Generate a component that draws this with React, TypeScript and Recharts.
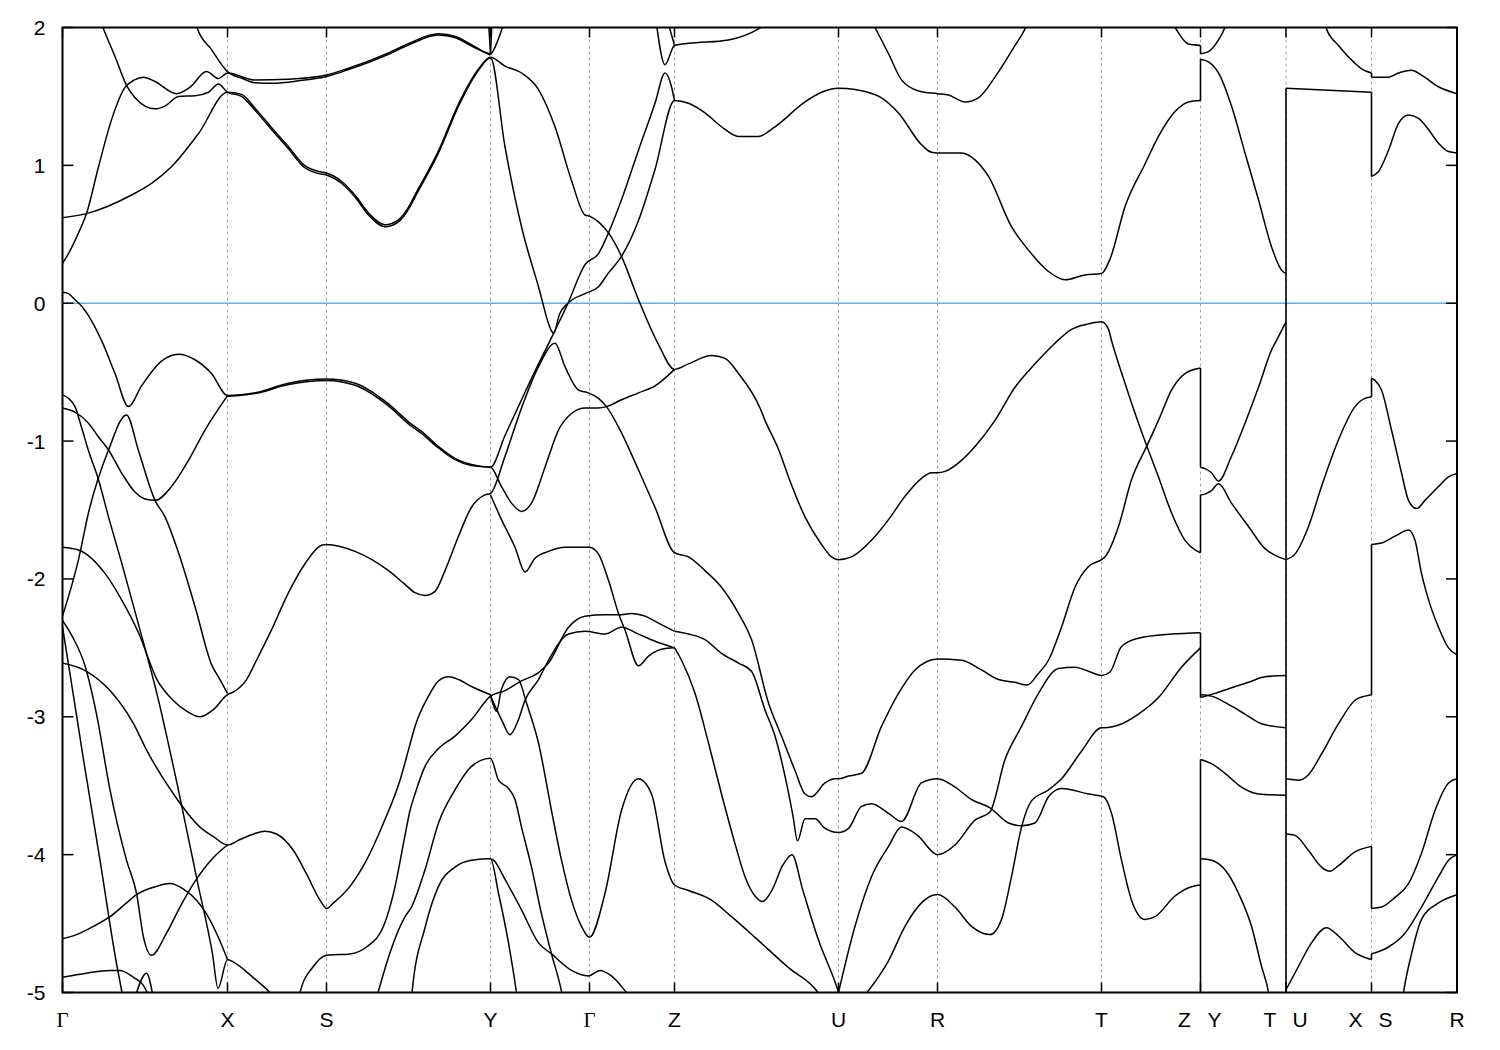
import React from 'react';
import { LineChart, Line, XAxis, YAxis, CartesianGrid, ReferenceLine, ReferenceArea } from 'recharts';

// high-symmetry points along the k-path (path units)
const kTicks = [0, 165, 264, 428, 527, 612, 776, 875, 1039, 1138, 1223.5, 1309, 1394.5];
const kLabels = ['Γ', 'X', 'S', 'Y', 'Γ', 'Z', 'U', 'R', 'T', 'Z|Y', 'T|U', 'X|S', 'R'];
const energyTicks = [-5, -4, -3, -2, -1, 0, 1, 2];

// bands, as [k, E(eV)] pairs
const bandA = [[0,0.29],[6,0.36],[16,0.51],[24,0.65],[36,0.99],[49,1.33],[62,1.56],[72,1.62],[81,1.64],[92,1.61],[114,1.52],[128,1.57],[144,1.68],[156,1.63],[165,1.67],[192,1.62],[226,1.625],[264,1.655],[286,1.705],[309,1.765],[326,1.815],[348,1.89],[376,1.955],[393,1.935],[409,1.875],[428,1.81],[435,1.9],[442,2.05]];
const bandD = [[133,2.05],[134.5,2.0],[149,1.84],[165,1.68],[180,1.63],[192,1.6],[210,1.595],[238,1.615],[264,1.645],[286,1.695],[309,1.755],[326,1.805],[348,1.88],[376,1.945],[393,1.925],[409,1.865],[428,1.8]];
const bandYv = [[426,2.05],[428,1.81]];
const bandYv2 = [[428,1.8],[429.5,2.05]];
const bandB = [[38,2.05],[40.5,2.0],[52.5,1.79],[64,1.58],[72.5,1.49],[82.5,1.43],[92.5,1.41],[102.5,1.43],[116,1.5],[132.5,1.505],[146,1.53],[156,1.59],[165,1.53],[179,1.5],[192.5,1.4],[209,1.26],[226,1.12],[241,0.99],[256,0.94],[264,0.93],[279,0.87],[292.5,0.77],[306,0.64],[322.5,0.555],[336,0.59],[347.5,0.7],[352.5,0.77],[376,1.09],[396,1.43],[416,1.69],[428,1.78],[442.5,1.135],[459,0.555],[476,0.12],[489,-0.2],[491,-0.22],[497,-0.08],[505.5,0.0],[522.5,0.07],[536,0.12],[546,0.22],[559,0.34],[576,0.6],[592.5,0.97],[612,1.47],[626,1.45],[642.5,1.38],[659,1.28],[676,1.21],[696,1.21],[712.5,1.28],[742.5,1.46],[759,1.53],[776,1.56],[792.5,1.55],[819,1.49],[836,1.38],[859,1.15],[869,1.095],[875,1.09],[899,1.09],[912.5,1.04],[926,0.92],[949,0.555],[966,0.385],[986,0.23],[1002.5,0.17],[1022.5,0.205],[1039,0.215],[1047.5,0.32],[1062.5,0.7],[1082.5,1.01],[1096,1.21],[1112.5,1.39],[1126,1.46],[1138,1.47]];
const bandC = [[0,0.62],[24,0.65],[69,0.785],[89,0.87],[109,0.99],[136,1.23],[165,1.53],[179,1.515],[192.5,1.415],[209,1.275],[226,1.135],[241,1.005],[256,0.955],[264,0.945],[279,0.885],[292.5,0.785],[306,0.655],[322.5,0.57],[336,0.605],[347.5,0.715],[352.5,0.785],[376,1.105],[396,1.445],[416,1.7],[428,1.785],[442.5,1.72],[459,1.67],[476,1.55],[492.5,1.28],[509,0.89],[522.5,0.64],[527.5,0.63],[536,0.59],[546,0.51],[559,0.34],[576,0.025],[596,-0.3],[612,-0.48],[626,-0.44],[649,-0.38],[662.5,-0.4],[676,-0.51],[697.5,-0.76],[702.5,-0.85],[716,-1.06],[726,-1.26],[742.5,-1.55],[759,-1.75],[769,-1.84],[776,-1.86],[789,-1.84],[809,-1.72],[826,-1.57],[842.5,-1.4],[859,-1.27],[869,-1.23],[875,-1.23],[882.5,-1.22],[899,-1.14],[912.5,-1.04],[932.5,-0.85],[952.5,-0.61],[972.5,-0.44],[992.5,-0.29],[1009,-0.19],[1026,-0.15],[1039,-0.135],[1046,-0.19],[1049,-0.27],[1062.5,-0.58],[1076,-0.87],[1084,-1.03],[1096,-1.26],[1109,-1.52],[1122.5,-1.72],[1132.5,-1.79],[1138,-1.81]];
const bandC1 = [[0,0.08],[6,0.07],[12.5,0.025],[19,-0.02],[39,-0.27],[52.5,-0.51],[66,-0.75],[79,-0.6],[99,-0.42],[116,-0.37],[132.5,-0.41],[149,-0.51],[165,-0.67],[192.5,-0.65],[226,-0.58],[264,-0.55],[292.5,-0.58],[326,-0.73],[347.5,-0.87],[359,-0.93],[376,-1.04],[392.5,-1.125],[409,-1.17],[428,-1.19],[442.5,-0.96],[459,-0.7],[476,-0.44],[489,-0.25],[505.5,0.0],[522.5,0.28],[536,0.36],[546,0.51],[559,0.75],[576,1.11],[592.5,1.45],[602.5,1.67],[609,1.57],[612,1.47]];
const bandM2 = [[165,-0.675],[192.5,-0.655],[226,-0.59],[264,-0.56],[292.5,-0.595],[326,-0.745],[347.5,-0.885],[359,-0.945],[376,-1.05],[392.5,-1.135],[409,-1.178],[428,-1.19],[439,-1.33],[449,-1.45],[459,-1.51],[469,-1.45],[482.5,-1.19],[496,-0.92],[509,-0.8],[522.5,-0.76],[536,-0.76],[544,-0.75],[559,-0.7],[576,-0.65],[592.5,-0.6],[612,-0.48]];
const bandM3 = [[0,-1.77],[16,-1.79],[42.5,-1.96],[59,-2.15],[76,-2.39],[94.5,-2.73],[110.5,-2.88],[124.5,-2.96],[137.5,-3.0],[150.5,-2.95],[165,-2.84],[171,-2.82],[184,-2.73],[194,-2.59],[209,-2.37],[226,-2.1],[242.5,-1.89],[259,-1.755],[264,-1.75],[292.5,-1.8],[326,-1.94],[342.5,-2.04],[352.5,-2.1],[362.5,-2.12],[372.5,-2.09],[382.5,-1.94],[396,-1.69],[409,-1.48],[422.5,-1.39],[428,-1.38],[442.5,-1.11],[459,-0.76],[476,-0.46],[492.5,-0.29],[502.5,-0.46],[516,-0.63],[526,-0.65],[536,-0.69],[544,-0.75],[559,-0.94],[576,-1.21],[592.5,-1.48],[612,-1.81],[626,-1.84],[642.5,-1.94],[659,-2.06],[676,-2.25],[689,-2.44],[706,-2.9],[719,-3.14],[732.5,-3.39],[742.5,-3.56],[749,-3.58],[762.5,-3.48],[772.5,-3.45],[776,-3.45],[786,-3.43],[799,-3.41],[819,-3.07],[836,-2.83],[852.5,-2.66],[875,-2.58],[899,-2.59],[919,-2.66],[936,-2.73],[952.5,-2.75],[964.5,-2.77],[975.5,-2.69],[986,-2.59],[999,-2.35],[1012.5,-2.06],[1026,-1.91],[1039,-1.86],[1042.5,-1.84],[1056,-1.62],[1069,-1.28],[1084,-1.04],[1096,-0.85],[1109,-0.63],[1122.5,-0.51],[1138,-0.47]];
const bandG3 = [[0,-0.665],[6,-0.69],[12.5,-0.75],[19,-0.9],[26,-1.07],[36,-1.28],[46,-1.55],[59,-1.88],[76,-2.33],[95,-2.85],[115,-3.5],[135,-4.2],[150,-4.72],[155.5,-4.97],[165,-4.76],[171,-4.78],[190.5,-4.89],[207.5,-5.0],[220,-5.1]];
const bandG4 = [[0,-0.76],[12.5,-0.79],[26,-0.87],[36,-0.97],[46,-1.065],[59,-1.23],[72.5,-1.37],[82.5,-1.42],[92.5,-1.43],[109,-1.33],[126,-1.14],[142.5,-0.92],[165,-0.67]];
const bandG5 = [[0,-2.27],[16,-1.86],[26,-1.52],[46,-1.065],[64,-0.81],[76,-1.07],[92.5,-1.43],[102.5,-1.55],[116,-1.81],[132.5,-2.2],[149,-2.62],[157.5,-2.73],[165,-2.83]];
const bandV473 = [[0,-2.3],[10,-2.42],[22.5,-2.63],[34,-2.98],[47.5,-3.53],[64,-4.04],[74,-4.28],[81,-4.6],[89,-4.73],[104,-4.57],[117.5,-4.38],[131,-4.21],[151,-4.02],[165,-3.93]];
const bandSteep = [[0,-2.35],[6,-2.62],[21,-3.31],[37.5,-4.04],[54,-4.79],[59.5,-5.0],[62,-5.1]];
const bandL9a = [[0,-2.61],[24,-2.67],[47.5,-2.81],[71,-3.05],[84,-3.24],[111,-3.56],[137.5,-3.8],[151,-3.87],[165,-3.93],[177.5,-3.89],[191,-3.85],[202.5,-3.83],[214,-3.85],[231,-3.97],[244,-4.14],[257.5,-4.33],[264,-4.39],[271,-4.35],[287.5,-4.23],[304,-4.04],[321,-3.77],[337.5,-3.46],[347.5,-3.2],[352.5,-3.07],[366,-2.85],[376,-2.74],[386,-2.71],[396,-2.73],[409,-2.78],[428,-2.84]];
const bandG46 = [[0,-4.61],[14,-4.58],[31,-4.52],[47.5,-4.45],[64,-4.35],[74,-4.29],[94,-4.23],[107.5,-4.21],[121,-4.25],[134,-4.33],[144,-4.43],[154,-4.57],[165,-4.76]];
const bandG49 = [[0,-4.89],[24,-4.86],[47.5,-4.84],[57.5,-4.84],[71,-4.89],[81,-4.95],[88,-5.05]];
const bandG49b = [[72,-5.05],[84,-4.86],[91,-5.05]];
const bandSY2 = [[236,-5.05],[237.5,-5.0],[251,-4.81],[264,-4.73],[287.5,-4.72],[304,-4.67],[321,-4.52],[332,-4.25],[342.5,-3.86],[347.5,-3.68],[352.5,-3.56],[362.5,-3.36],[376,-3.23],[392.5,-3.14],[409,-3.02],[428,-2.85],[442.5,-2.81],[459,-2.74],[476,-2.68],[486,-2.61],[506,-2.35],[522.5,-2.27],[542.5,-2.26],[559,-2.26],[569,-2.25],[582.5,-2.27],[596,-2.32],[612,-2.38]];
const bandYGa = [[428,-2.84],[434,-2.96],[439,-2.8],[447.5,-2.71],[456,-2.73],[464,-2.9],[476,-3.19],[489,-3.68],[499,-4.04],[509,-4.33],[519,-4.52],[527,-4.6],[542.5,-4.28],[559,-3.68],[576,-3.45],[589,-3.56],[602.5,-4.05],[612,-4.22],[626,-4.26],[649,-4.33],[669,-4.45],[692.5,-4.6],[726,-4.82],[755.5,-5.0],[760,-5.05]];
const bandYGb = [[428,-2.85],[439,-3.02],[447.5,-3.13],[456,-3.02],[462.5,-2.88],[476,-2.73],[486,-2.59],[506,-2.4],[522.5,-2.38],[542.5,-2.4],[559,-2.35],[576,-2.4],[592,-2.45],[612,-2.5]];
const bandY33 = [[315.5,-5.0],[328,-4.7],[342.5,-4.45],[349,-4.38],[362.5,-4.11],[376,-3.77],[392.5,-3.53],[409,-3.36],[428,-3.3],[436,-3.46],[446,-3.52],[452.5,-3.6],[459,-3.8],[469,-4.09],[479,-4.43],[489,-4.72],[499,-4.99],[502,-5.1]];
const bandY40 = [[349,-5.05],[349.5,-5.0],[362.5,-4.53],[376,-4.23],[392.5,-4.09],[409,-4.04],[428,-4.03],[436,-4.28],[446,-4.64],[454,-5.0],[456,-5.1]];
const bandY40b = [[428,-4.03],[431,-4.04],[442.5,-4.18],[459,-4.4],[476,-4.64],[489,-4.72],[509,-4.84],[526,-4.88],[537.5,-4.84],[549,-4.88],[564,-5.0],[570,-5.05]];
const bandM4 = [[428,-1.39],[439,-1.57],[452.5,-1.77],[462.5,-1.95],[472.5,-1.85],[486,-1.8],[502.5,-1.77],[527,-1.77],[536,-1.82],[546,-2.01],[556,-2.25],[562.5,-2.37],[576,-2.63],[586,-2.56],[599,-2.51],[612,-2.5]];
const bandZU2 = [[612,-2.38],[626,-2.4],[642.5,-2.44],[659,-2.54],[676,-2.61],[689,-2.67],[702.5,-2.95],[712.5,-3.14],[722.5,-3.43],[730.5,-3.72],[735,-3.9],[742.5,-3.74],[752.5,-3.74],[762.5,-3.81],[776,-3.84],[786,-3.81],[799,-3.65],[809,-3.63],[826,-3.7],[839,-3.76],[859,-3.48],[875,-3.45],[892.5,-3.51],[909,-3.6],[927.5,-3.66],[946,-3.77],[959,-3.79],[972.5,-3.77],[986,-3.58],[999,-3.52],[1026,-3.56],[1041,-3.58],[1049,-3.7],[1059,-4.04],[1069,-4.33],[1082.5,-4.47],[1092.5,-4.45],[1112.5,-4.3],[1126,-4.24],[1138,-4.22]];
const bandZU3 = [[612,-2.5],[619,-2.59],[632.5,-2.83],[646,-3.19],[659,-3.56],[672.5,-3.92],[682.5,-4.16],[692.5,-4.3],[700,-4.34],[710,-4.25],[720,-4.08],[729.5,-4.0],[740,-4.25],[756,-4.62],[776,-5.0],[778,-5.05]];
const bandUR1 = [[776,-5.0],[792.5,-4.52],[809,-4.16],[826,-3.94],[839,-3.8],[855,-3.86],[875,-4.0],[892.5,-3.93],[912.5,-3.75],[927.5,-3.69],[942.5,-3.31],[959,-3.07],[976,-2.83],[996,-2.65],[1012.5,-2.64],[1026,-2.67],[1039,-2.7],[1047.5,-2.675],[1059,-2.49],[1076,-2.43],[1109,-2.4],[1138,-2.39]];
const bandUR3 = [[804.5,-5.0],[826,-4.77],[842.5,-4.52],[859,-4.35],[875,-4.29],[892.5,-4.38],[909,-4.52],[927.5,-4.58],[939,-4.47],[949,-4.16],[959,-3.8],[969,-3.61],[986,-3.53],[999,-3.45],[1019,-3.25],[1039,-3.08],[1042.5,-3.08],[1056,-3.06],[1076,-2.98],[1096,-2.86],[1119,-2.64],[1138,-2.5]];
const bandZv = [[593.5,2.05],[602.5,1.73],[612,1.87],[626,1.885],[666,1.91],[696,1.99],[708,2.05]];
const bandZs = [[605,2.05],[612,1.87]];
const bandRT = [[809,2.05],[812.5,2.0],[826,1.81],[839,1.62],[856,1.54],[875,1.52],[886,1.51],[902.5,1.46],[916,1.49],[932.5,1.64],[952.5,1.87],[962.5,1.99],[966,2.05]];
const bandZYtop = [[1108,2.05],[1112.5,2.0],[1126,1.88],[1138,1.87]];
const bandYT1 = [[1138,1.77],[1146,1.75],[1156,1.67],[1169,1.43],[1182.5,1.09],[1196,0.75],[1209,0.41],[1219,0.24],[1223.5,0.215]];
const bandYT2 = [[1138,1.81],[1146,1.825],[1156,1.91],[1162.5,2.0],[1165,2.05]];
const bandYT3 = [[1138,-1.19],[1142.5,-1.2],[1149,-1.23],[1156,-1.29],[1169,-1.11],[1182.5,-0.87],[1196,-0.61],[1209,-0.34],[1214,-0.27],[1223.5,-0.135]];
const bandYT4 = [[1138,-1.39],[1142.5,-1.385],[1149,-1.36],[1156,-1.31],[1169,-1.45],[1186,-1.62],[1202.5,-1.78],[1216,-1.84],[1223.5,-1.86]];
const bandYT5 = [[1138,-2.84],[1149,-2.85],[1166,-2.91],[1182.5,-2.98],[1199,-3.05],[1223.5,-3.08]];
const bandYT6 = [[1138,-2.86],[1152.5,-2.83],[1169,-2.79],[1186,-2.75],[1202.5,-2.71],[1223.5,-2.7]];
const bandYT7 = [[1138,-3.31],[1149,-3.34],[1162.5,-3.41],[1179,-3.51],[1196,-3.56],[1223.5,-3.57]];
const bandYT8 = [[1138,-4.03],[1149,-4.04],[1162.5,-4.11],[1176,-4.28],[1189,-4.52],[1199,-4.81],[1206,-5.0],[1208,-5.1]];
const bandUX1 = [[1223.5,1.56],[1309,1.53]];
const bandSR1 = [[1309,0.92],[1316,0.955],[1326,1.11],[1336,1.305],[1346,1.365],[1356,1.34],[1366,1.26],[1376,1.16],[1386,1.1],[1394.5,1.09]];
const bandUXtop = [[1262,2.05],[1264,1.99],[1276,1.87],[1292.5,1.74],[1299,1.7],[1309,1.67]];
const bandSRtop = [[1309,1.64],[1326,1.64],[1336,1.67],[1349,1.69],[1359,1.655],[1376,1.57],[1394.5,1.52]];
const bandUX2 = [[1223.5,-1.86],[1232.5,-1.82],[1246,-1.62],[1259,-1.33],[1276,-0.99],[1292.5,-0.75],[1302.5,-0.69],[1309,-0.68]];
const bandSR2 = [[1309,-0.545],[1312.5,-0.56],[1319,-0.63],[1329,-0.92],[1339,-1.23],[1346,-1.43],[1354,-1.49],[1362.5,-1.43],[1376,-1.33],[1386,-1.26],[1394.5,-1.235]];
const bandUX3 = [[1223.5,-3.45],[1236,-3.46],[1246,-3.42],[1259,-3.27],[1276,-3.05],[1292.5,-2.88],[1302.5,-2.85],[1309,-2.84]];
const bandSR3 = [[1309,-1.75],[1319,-1.74],[1332.5,-1.69],[1346,-1.645],[1352.5,-1.72],[1359,-1.96],[1366,-2.15],[1376,-2.35],[1386,-2.5],[1394.5,-2.55]];
const bandUX4 = [[1223.5,-3.85],[1232.5,-3.86],[1246,-3.97],[1259,-4.09],[1267.5,-4.12],[1276,-4.08],[1292.5,-3.98],[1309,-3.94]];
const bandSR4 = [[1309,-4.39],[1319,-4.38],[1332.5,-4.31],[1346,-4.21],[1359,-3.99],[1372.5,-3.68],[1386,-3.48],[1394.5,-3.45]];
const bandUX5 = [[1223.5,-4.98],[1236,-4.81],[1249,-4.64],[1264,-4.53],[1276,-4.59],[1292.5,-4.71],[1309,-4.76]];
const bandSR5 = [[1309,-4.72],[1326,-4.67],[1342.5,-4.57],[1359,-4.38],[1376,-4.16],[1386,-4.04],[1394.5,-4.0]];
const bandSR6 = [[1339,-5.1],[1341,-5.0],[1349,-4.72],[1359,-4.47],[1376,-4.35],[1394.5,-4.29]];

// band jumps at the path breaks: [k, E from, E to]
const jumps = [
  [1138, 1.47, 1.77], [1138, 1.81, 1.87], [1138, -1.19, -0.47], [1138, -1.81, -1.39],
  [1138, -2.86, -2.39], [1138, -5.1, -3.31],
  [1223.5, -5.1, 1.56],
  [1309, 0.92, 1.53], [1309, 1.64, 1.67], [1309, -0.68, -0.545], [1309, -2.84, -1.75],
  [1309, -4.39, -3.94], [1309, -4.76, -4.72],
];

const bands = [
  bandA, bandD, bandYv, bandYv2, bandB, bandC, bandC1, bandM2, bandM3, bandG3, bandG4, bandG5,
  bandV473, bandSteep, bandL9a, bandG46, bandG49, bandG49b, bandSY2, bandYGa, bandYGb, bandY33,
  bandY40, bandY40b, bandM4, bandZU2, bandZU3, bandUR1, bandUR3, bandZv, bandZs, bandRT,
  bandZYtop, bandYT1, bandYT2, bandYT3, bandYT4, bandYT5, bandYT6, bandYT7, bandYT8,
  bandUX1, bandSR1, bandUXtop, bandSRtop, bandUX2, bandSR2, bandUX3, bandSR3, bandUX4, bandSR4,
  bandUX5, bandSR5, bandSR6,
];

const PLOT_W = 1394.5;
const PLOT_H = 965;

function KTick(props: any) {
  const { x, y, index } = props;
  const label = kLabels[index] ?? '';
  const parts = label.split('|');
  const font = (s: string) => (s === 'Γ' ? '"Liberation Serif", serif' : '"Liberation Sans", Arial, sans-serif');
  return (
    <g>
      <line x1={x} y1={y} x2={x} y2={y - 10} stroke="#000" strokeWidth={1.5} />
      <line x1={x} y1={y - PLOT_H} x2={x} y2={y - PLOT_H + 10} stroke="#000" strokeWidth={1.5} />
      {parts.length === 1 ? (
        <text x={x} y={y + 34} textAnchor="middle" fontSize={21} fontFamily={font(label)} fill="#000">{label}</text>
      ) : (
        <>
          <text x={x - 16} y={y + 34} textAnchor="middle" fontSize={21} fontFamily={font(parts[0])} fill="#000">{parts[0]}</text>
          <text x={x + 14} y={y + 34} textAnchor="middle" fontSize={21} fontFamily={font(parts[1])} fill="#000">{parts[1]}</text>
        </>
      )}
    </g>
  );
}

function ETick(props: any) {
  const { x, y, payload } = props;
  return (
    <g>
      <line x1={x} y1={y} x2={x + 11} y2={y} stroke="#000" strokeWidth={1.5} />
      <line x1={x + PLOT_W - 11} y1={y} x2={x + PLOT_W} y2={y} stroke="#000" strokeWidth={1.5} />
      <text x={x - 17} y={y + 7.5} textAnchor="end" fontSize={21} fontFamily='"Liberation Sans", Arial, sans-serif' fill="#000">
        {payload.value}
      </text>
    </g>
  );
}

export default function App() {
  return (
    <div style={{ position: 'absolute', left: 0, top: 0, width: 1500, height: 1050, background: '#fff' }}>
      <LineChart width={1500} height={1050} margin={{ top: 27.5, right: 43, left: 0, bottom: 0 }}>
        <CartesianGrid horizontal={false} vertical strokeDasharray="3 3" stroke="#a0a0a0" strokeWidth={1} />
        <XAxis
          type="number"
          dataKey="k"
          domain={[0, 1394.5]}
          ticks={kTicks}
          interval={0}
          allowDataOverflow
          axisLine={false}
          tickLine={false}
          tickSize={0}
          tickMargin={0}
          height={57.5}
          tick={<KTick />}
        />
        <YAxis
          type="number"
          domain={[-5, 2]}
          ticks={energyTicks}
          interval={0}
          allowDataOverflow
          axisLine={false}
          tickLine={false}
          tickSize={0}
          tickMargin={0}
          width={62.5}
          tick={<ETick />}
        />
        <ReferenceLine y={0} stroke="#56B4E9" strokeWidth={1.6} />
        {bands.map((band, i) => (
          <Line
            key={'b' + i}
            data={band.map(([k, e]) => ({ k, e }))}
            dataKey="e"
            type="monotoneX"
            stroke="#000"
            strokeWidth={1.5}
            dot={false}
            activeDot={false}
            isAnimationActive={false}
          />
        ))}
        {jumps.map(([k, e1, e2], i) => (
          <Line
            key={'j' + i}
            data={[{ k, e: e1 }, { k, e: e2 }]}
            dataKey="e"
            type="linear"
            stroke="#000"
            strokeWidth={1.6}
            dot={false}
            activeDot={false}
            isAnimationActive={false}
          />
        ))}
        <ReferenceArea x1={0} x2={1394.5} y1={-5} y2={2} fill="none" fillOpacity={0} stroke="#000" strokeWidth={2} />
      </LineChart>
    </div>
  );
}
